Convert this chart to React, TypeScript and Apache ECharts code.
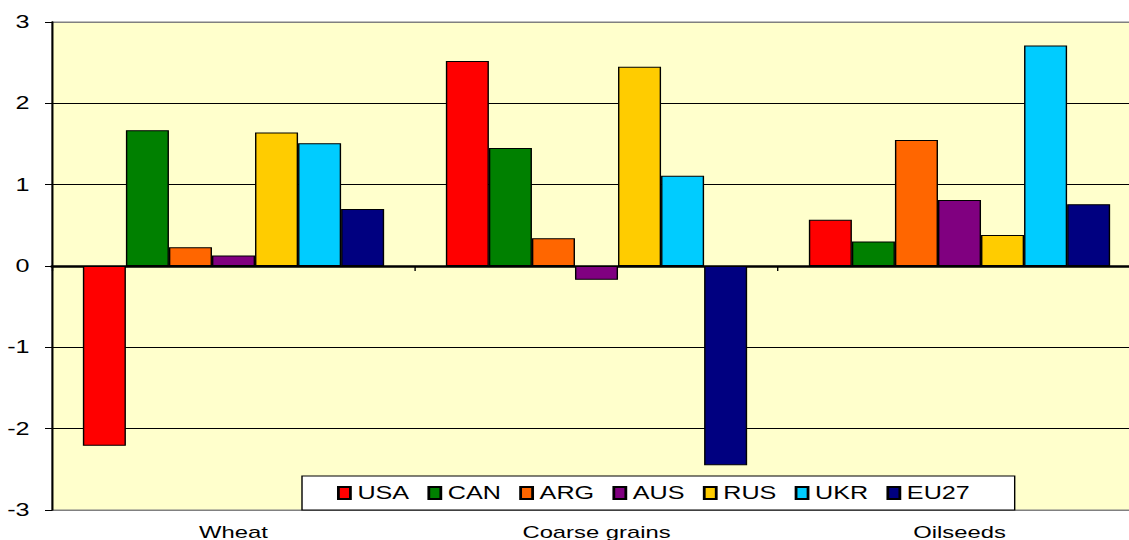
import React, { useEffect, useRef } from 'react';
import * as echarts from 'echarts';

const categories = ['Wheat', 'Coarse grains', 'Oilseeds'];
const seriesNames = ['USA', 'CAN', 'ARG', 'AUS', 'RUS', 'UKR', 'EU27'];
const usa = [-2.21, 2.52, 0.57];
const can = [1.67, 1.45, 0.3];
const arg = [0.23, 0.34, 1.55];
const aus = [0.13, -0.17, 0.81];
const rus = [1.64, 2.45, 0.38];
const ukr = [1.51, 1.11, 2.71];
const eu27 = [0.7, -2.45, 0.76];
const seriesValues = [usa, can, arg, aus, rus, ukr, eu27];
const colors = ['#FF0000', '#008000', '#FF6600', '#800080', '#FFCC00', '#00CCFF', '#000080'];
const yMin = -3;
const yMax = 3;
const yInterval = 1;

const S = 1.4; // horizontal stretch of the reference picture
const FONT = '"Liberation Sans", Arial, sans-serif';

export default function App() {
  const ref = useRef<HTMLDivElement>(null);
  useEffect(() => {
    if (!ref.current) return;
    const chart = echarts.init(ref.current, null, { renderer: 'svg' });
    chart.setOption({
      animation: false,
      textStyle: { fontFamily: FONT },
      grid: {
        left: 52 / S,
        top: 22,
        width: 1089 / S,
        height: 488,
        show: true,
        backgroundColor: '#FFFFCC',
        borderColor: '#808080',
        borderWidth: 1,
      },
      legend: {
        data: seriesNames,
        left: 302 / S,
        top: 476,
        padding: [8, 32, 8, 35 / S],
        itemGap: 13,
        itemWidth: 12 / S,
        itemHeight: 12,
        icon: 'rect',
        backgroundColor: '#FFFFFF',
        borderColor: '#000000',
        borderWidth: 1,
        textStyle: { fontSize: 18, color: '#000', fontFamily: FONT },
      },
      xAxis: [
        {
          type: 'category',
          data: categories,
          position: 'bottom',
          axisLine: { show: false, onZero: false },
          axisTick: { show: false },
          axisLabel: { fontSize: 17, margin: 13, color: '#000', fontFamily: FONT },
          splitLine: { show: false },
        },
        {
          type: 'category',
          data: categories,
          position: 'bottom',
          axisLine: { show: true, onZero: true, lineStyle: { color: '#000', width: 2.5 } },
          axisTick: { show: true, length: 5, lineStyle: { color: '#000', width: 1 } },
          axisLabel: { show: false },
          splitLine: { show: false },
        },
      ],
      yAxis: {
        type: 'value',
        min: yMin,
        max: yMax,
        interval: yInterval,
        axisLine: { show: true, lineStyle: { color: '#000', width: 1.4 } },
        axisTick: { show: true, length: 5, lineStyle: { color: '#000', width: 1 } },
        axisLabel: { fontSize: 18, margin: 16, color: '#000', fontFamily: FONT },
        splitLine: {
          show: true,
          lineStyle: {
            color: ['#808080', '#000', '#000', '#000', '#000', '#000', '#808080'],
            width: 1,
          },
        },
      },
      series: seriesNames.map((name, i) => ({
        name,
        type: 'bar',
        xAxisIndex: 0,
        data: seriesValues[i],
        barGap: '0%',
        barCategoryGap: '17%',
        itemStyle: { color: colors[i], borderColor: '#000', borderWidth: 1 },
      })),
    });
    return () => chart.dispose();
  }, []);
  return (
    <div
      style={{
        position: 'fixed',
        left: 0,
        top: 0,
        width: 1129,
        height: 540,
        overflow: 'hidden',
        background: '#FFFFFF',
      }}
    >
      <div
        ref={ref}
        style={{
          width: 1180 / S,
          height: 540,
          transform: `scaleX(${S})`,
          transformOrigin: '0 0',
        }}
      />
    </div>
  );
}
